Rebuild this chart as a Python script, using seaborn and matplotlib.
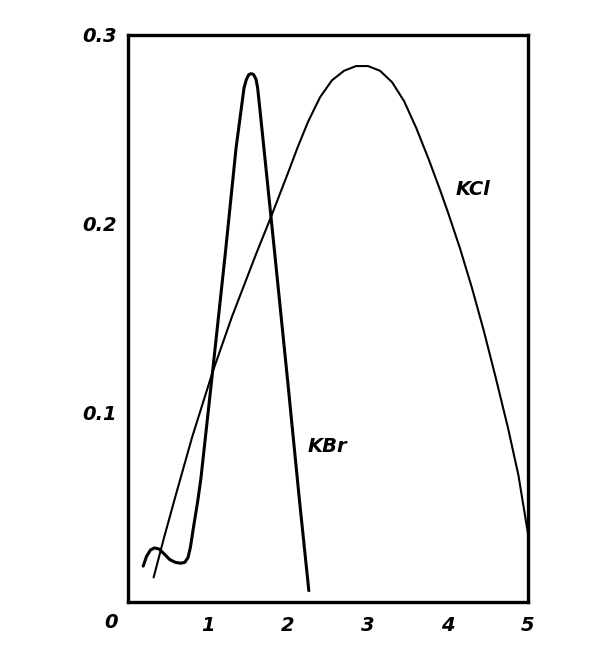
import matplotlib
matplotlib.use('Agg')
import matplotlib.pyplot as plt
import seaborn as sns
import pandas as pd

# Data
kbr_x = [0.19, 0.23, 0.28, 0.33, 0.39, 0.45, 0.52, 0.59, 0.66, 0.71, 0.75, 0.78, 0.82, 0.87,
         0.91, 1.06, 1.22, 1.35, 1.45, 1.48, 1.51, 1.54, 1.57, 1.60, 1.62, 1.65,
         1.83, 2.00, 2.14, 2.26]
kbr_y = [0.019, 0.024, 0.0275, 0.0286, 0.028, 0.0255, 0.0225, 0.021, 0.0205, 0.021, 0.0235,
         0.029, 0.040, 0.053, 0.065, 0.123, 0.186, 0.240, 0.272, 0.2765, 0.279, 0.2795, 0.279,
         0.2765, 0.272, 0.260, 0.186, 0.115, 0.055, 0.006]

kcl_x = [0.32, 0.45, 0.60, 0.80, 1.06, 1.30, 1.60, 1.79, 2.00, 2.12, 2.25, 2.40, 2.55, 2.70,
         2.85, 3.00, 3.15, 3.30, 3.45, 3.60, 3.76, 3.90, 4.00, 4.15, 4.30, 4.45, 4.60,
         4.75, 4.88, 5.00]
kcl_y = [0.013, 0.034, 0.057, 0.087, 0.122, 0.151, 0.184, 0.204, 0.227, 0.2405, 0.254, 0.267,
         0.276, 0.281, 0.2835, 0.2835, 0.281, 0.275, 0.265, 0.251, 0.234, 0.218, 0.206,
         0.187, 0.166, 0.143, 0.118, 0.092, 0.067, 0.036]

x_ticks = [1, 2, 3, 4, 5]
y_ticks = [0.05, 0.1, 0.15, 0.2, 0.25, 0.3]
y_labels = ['', '0.1', '', '0.2', '', '0.3']

sns.set_theme(style='white')
plt.rcParams['font.family'] = ['DejaVu Sans']

fig = plt.figure(figsize=(6.14, 6.68), dpi=100)
ax = fig.add_axes([0.2085, 0.0988, 0.6515, 0.849])

kbr = pd.DataFrame({'x': kbr_x, 'y': kbr_y})
kcl = pd.DataFrame({'x': kcl_x, 'y': kcl_y})
sns.lineplot(data=kbr, x='x', y='y', sort=False, estimator=None, color='black', lw=2.2, ax=ax)
sns.lineplot(data=kcl, x='x', y='y', sort=False, estimator=None, color='black', lw=1.5, ax=ax)

ax.set_xlim(0, 5)
ax.set_ylim(0, 0.3)
ax.set_xlabel('')
ax.set_ylabel('')

for s in ax.spines.values():
    s.set_color('black')
    s.set_linewidth(2.4)

tick_font = dict(fontsize=14, fontstyle='italic', fontweight='bold', color='black')
ax.set_xticks(x_ticks)
ax.set_xticklabels([str(t) for t in x_ticks], **tick_font)
ax.set_yticks(y_ticks)
ax.set_yticklabels(y_labels, **tick_font)
ax.tick_params(axis='both', direction='in', length=6, width=1.8, color='black')
ax.tick_params(axis='x', pad=10)
ax.tick_params(axis='y', pad=8)

# corner zero
ax.text(-0.21, -0.011, '0', ha='center', va='center', clip_on=False, **tick_font)

ax.text(4.31, 0.218, 'KCl', ha='center', va='center', **tick_font)
ax.text(2.49, 0.0825, 'KBr', ha='center', va='center', **tick_font)

fig.savefig('out.png', dpi=100, facecolor='white')
